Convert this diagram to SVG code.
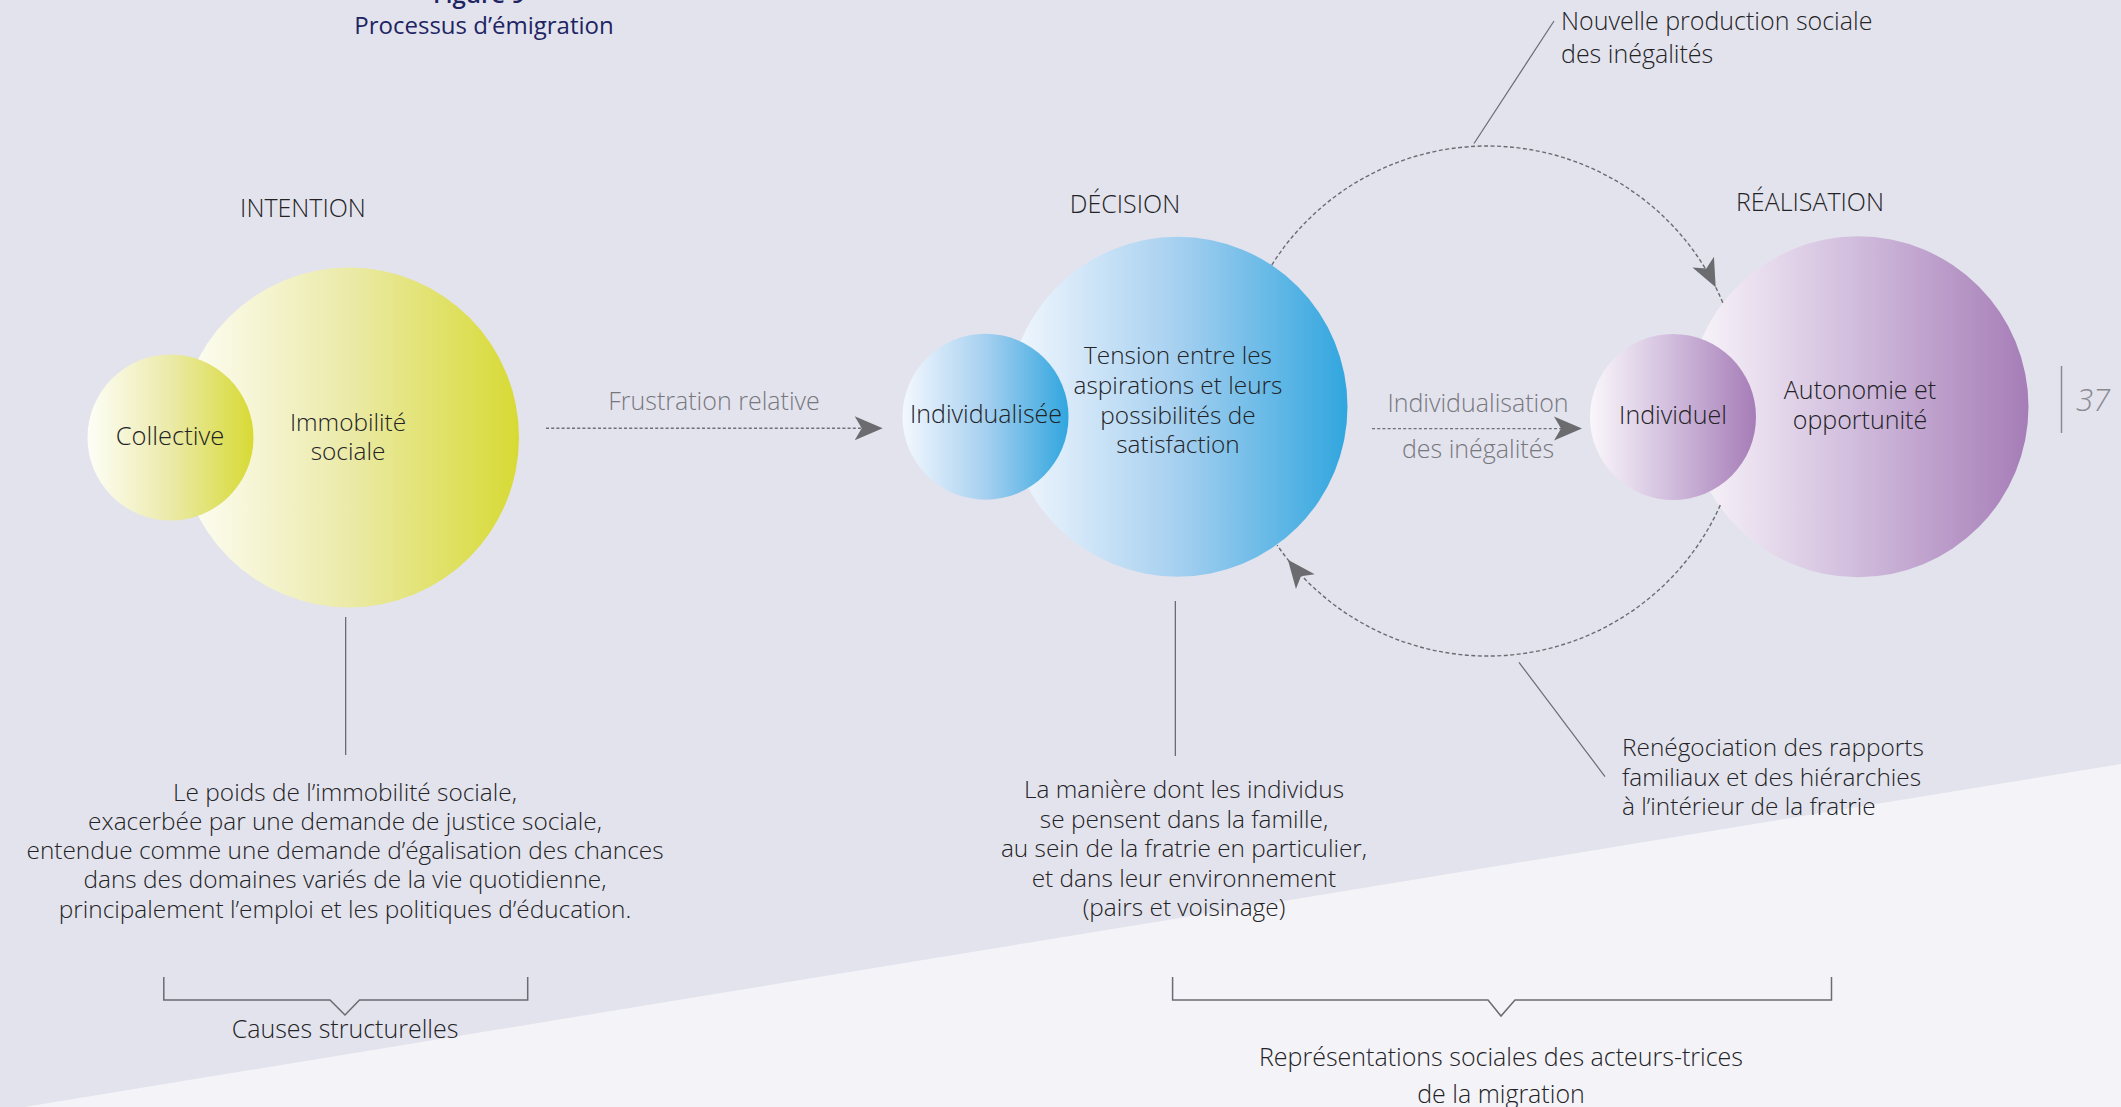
<svg xmlns="http://www.w3.org/2000/svg" width="2121" height="1107" viewBox="0 0 2121 1107">
<defs>
<linearGradient id="gY" x1="0" y1="0" x2="1" y2="0">
<stop offset="0" stop-color="#fefef8"/>
<stop offset="0.5" stop-color="#ebeaa8"/>
<stop offset="1" stop-color="#d7da34"/>
</linearGradient>
<linearGradient id="gB" x1="0" y1="0" x2="1" y2="0">
<stop offset="0" stop-color="#f4f8fe"/>
<stop offset="0.5" stop-color="#a6d0f0"/>
<stop offset="1" stop-color="#31a6df"/>
</linearGradient>
<linearGradient id="gP" x1="0" y1="0" x2="1" y2="0">
<stop offset="0" stop-color="#faf7fb"/>
<stop offset="0.5" stop-color="#d0bbdc"/>
<stop offset="1" stop-color="#a67db7"/>
</linearGradient>
<path id="ah" d="M0,0 L-28,-12 L-21,0 L-28,12 Z" fill="#6b6b70"/>
<style>
text{font-family:"Open Sans","Noto Sans","Liberation Sans",sans-serif;font-weight:300;fill:#232326;font-size:25px}
.c{text-anchor:middle}
.p{font-size:24.4px}
.lbl{font-size:25.5px}
.grey{fill:#77777d}
.ttl{fill:#1e2562;font-weight:400;font-size:24px}
.dot{fill:none;stroke:#707078;stroke-width:1.4;stroke-dasharray:3 2.2}
.dash{fill:none;stroke:#6b6b70;stroke-width:1.4;stroke-dasharray:4 2.5}
.lead{fill:none;stroke:#6b6b70;stroke-width:1.2}
.vl{fill:none;stroke:#55555a;stroke-width:1.1}
.br{fill:none;stroke:#6b6b70;stroke-width:1.5}
</style>
</defs>
<rect x="0" y="0" width="2121" height="1107" fill="#e3e3ed"/>
<polygon points="0,1111 2121,764 2121,1107 0,1107" fill="#f3f3f8"/>

<g id="title">
<text class="c ttl" x="479" y="3" style="font-weight:600">Figure 9</text>
<text class="c ttl" x="484" y="34">Processus d’émigration</text>
</g>

<g id="intention">
<text class="c" x="303" y="217">INTENTION</text>
<circle cx="349" cy="437.5" r="170" fill="url(#gY)"/>
<text class="c p" x="348" y="431">Immobilité</text>
<text class="c p" x="348" y="460">sociale</text>
</g>
<g id="collective">
<circle cx="170.5" cy="437.5" r="83" fill="url(#gY)"/>
<text class="c lbl" x="170" y="445">Collective</text>
</g>

<g id="decision">
<text class="c" x="1125" y="213">DÉCISION</text>
<circle cx="1177.5" cy="406.7" r="170" fill="url(#gB)"/>
<text class="c p" x="1178" y="364">Tension entre les</text>
<text class="c p" x="1178" y="394">aspirations et leurs</text>
<text class="c p" x="1178" y="424">possibilités de</text>
<text class="c p" x="1178" y="453">satisfaction</text>
</g>
<g id="individualisee">
<circle cx="985.5" cy="416.7" r="83" fill="url(#gB)"/>
<text class="c" x="986" y="423">Individualisée</text>
</g>

<g id="realisation">
<text class="c" x="1810" y="211">RÉALISATION</text>
<circle cx="1858" cy="406.8" r="170.5" fill="url(#gP)"/>
<text class="c" x="1860" y="399">Autonomie et</text>
<text class="c" x="1860" y="429">opportunité</text>
</g>
<g id="individuel">
<circle cx="1673" cy="417" r="83" fill="url(#gP)"/>
<text class="c" x="1673" y="424">Individuel</text>
</g>

<g id="page-number">
<line x1="2061.5" y1="366" x2="2061.5" y2="433" stroke="#8a8a90" stroke-width="1.5"/>
<text x="2076" y="411" style="font-size:31px;font-style:italic;fill:#8a8a90">37</text>
</g>

<g id="connectors">
<line class="dot" x1="546" y1="428.3" x2="866" y2="428.3"/>
<use href="#ah" transform="translate(882.7,428.3)"/>
<line class="dot" x1="1372" y1="428.6" x2="1566" y2="428.6"/>
<use href="#ah" transform="translate(1582,428.6)"/>
<path class="dash" d="M1271.8,264.9 A255,255 0 0 1 1723.2,303.8"/>
<use href="#ah" transform="translate(1715.7,287.2) rotate(63.5)"/>
<path class="dash" d="M1720.3,505.1 A255,255 0 0 1 1277.1,545.1"/>
<use href="#ah" transform="translate(1287.9,559.7) rotate(231.5)"/>
<line class="lead" x1="1474" y1="143.5" x2="1554" y2="21"/>
<line class="lead" x1="1519" y1="662.4" x2="1605" y2="776.6"/>
<line class="vl" x1="345.7" y1="617" x2="345.7" y2="755"/>
<line class="vl" x1="1175.3" y1="601" x2="1175.3" y2="756"/>
<path class="br" d="M163.8,977 V1000 H330 L345,1015 L359.5,1000 H527.7 V977"/>
<path class="br" d="M1172.6,977 V1000 H1488 L1501,1016 L1515,1000 H1831.5 V977"/>
</g>

<g id="labels">
<text class="c grey" x="714" y="410">Frustration relative</text>
<text class="c grey" x="1478" y="412">Individualisation</text>
<text class="c grey" x="1478" y="458">des inégalités</text>
<text x="1561" y="30">Nouvelle production sociale</text>
<text x="1561" y="63">des inégalités</text>
<text class="p" x="1622" y="756">Renégociation des rapports</text>
<text class="p" x="1622" y="786">familiaux et des hiérarchies</text>
<text class="p" x="1622" y="815">à l’intérieur de la fratrie</text>
</g>

<g id="text-intention">
<text class="c p" x="345" y="801">Le poids de l’immobilité sociale,</text>
<text class="c p" x="345" y="830">exacerbée par une demande de justice sociale,</text>
<text class="c p" x="345" y="859">entendue comme une demande d’égalisation des chances</text>
<text class="c p" x="345" y="888">dans des domaines variés de la vie quotidienne,</text>
<text class="c p" x="345" y="918">principalement l’emploi et les politiques d’éducation.</text>
<text class="c" x="345" y="1038">Causes structurelles</text>
</g>

<g id="text-decision">
<text class="c p" x="1184" y="798">La manière dont les individus</text>
<text class="c p" x="1184" y="828">se pensent dans la famille,</text>
<text class="c p" x="1184" y="857">au sein de la fratrie en particulier,</text>
<text class="c p" x="1184" y="887">et dans leur environnement</text>
<text class="c p" x="1184" y="916">(pairs et voisinage)</text>
<text class="c" x="1501" y="1066">Représentations sociales des acteurs-trices</text>
<text class="c" x="1501" y="1103">de la migration</text>
</g>
</svg>
